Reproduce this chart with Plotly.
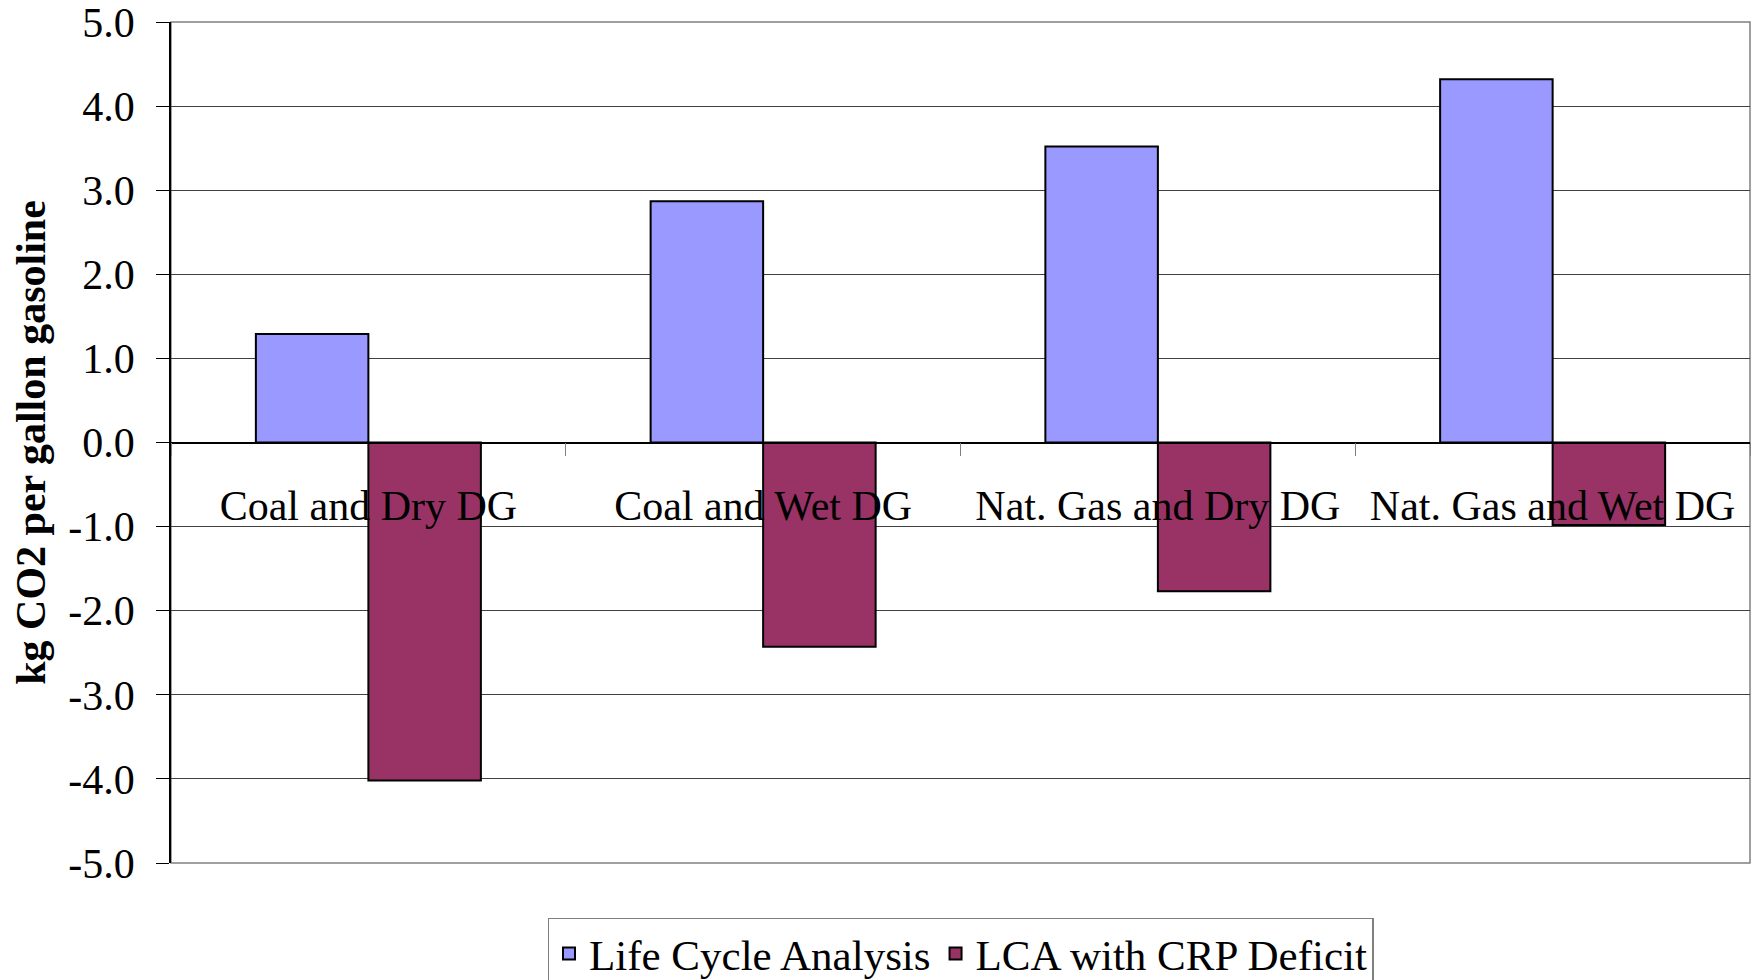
import plotly.graph_objects as go

categories = ["Coal and Dry DG", "Coal and Wet DG", "Nat. Gas and Dry DG", "Nat. Gas and Wet DG"]
lca = [1.29, 2.87, 3.52, 4.32]
lca_crp = [-4.02, -2.43, -1.77, -0.98]
y_ticks = [-5, -4, -3, -2, -1, 0, 1, 2, 3, 4, 5]
y_labels = ["-5.0", "-4.0", "-3.0", "-2.0", "-1.0", "0.0", "1.0", "2.0", "3.0", "4.0", "5.0"]

font = "Liberation Serif, Times New Roman, serif"

fig = go.Figure()
fig.add_trace(go.Bar(x=categories, y=lca, name="Life Cycle Analysis",
                     marker=dict(color="#9999FF", line=dict(color="black", width=2))))
fig.add_trace(go.Bar(x=categories, y=lca_crp, name="LCA with CRP Deficit",
                     marker=dict(color="#993366", line=dict(color="black", width=2))))

# grey plot-area border (Excel style)
fig.add_shape(type="rect", xref="paper", yref="paper", x0=0, x1=1, y0=0, y1=1,
              line=dict(color="#808080", width=1.5), layer="below")

# page body has an 8px margin, so the figure is a bit smaller than the window
fig.update_layout(
    width=1751, height=972,
    margin=dict(l=163, r=9, t=14, b=117, autoexpand=False),
    paper_bgcolor="white", plot_bgcolor="white",
    font=dict(family=font, size=42, color="black"),
    barmode="group", bargap=0.43, bargroupgap=0,
    showlegend=True,
    legend=dict(orientation="h", x=0.5, xanchor="center", y=-0.065, yanchor="top",
                bordercolor="#808080", borderwidth=1.5, font=dict(size=43),
                itemwidth=30, tracegroupgap=0),
    xaxis=dict(anchor="free", position=0.5, showline=True, linecolor="black", linewidth=1.5,
               ticks="outside", tickson="boundaries", ticklen=13, tickcolor="#808080",
               tickfont=dict(size=42), showgrid=False, ticklabelstandoff=26, automargin=False),
    yaxis=dict(range=[-5, 5], tickvals=y_ticks, ticktext=y_labels, showline=True,
               linecolor="black", linewidth=1.5, ticks="outside", ticklen=13, tickcolor="black",
               gridcolor="#404040", gridwidth=1, zeroline=False, ticklabelstandoff=13,
               ticklabeloverflow="allow", automargin=False,
               title=dict(text="<b>kg CO2 per gallon gasoline</b>", font=dict(size=42), standoff=14)),
)

fig.write_html("out.html")
